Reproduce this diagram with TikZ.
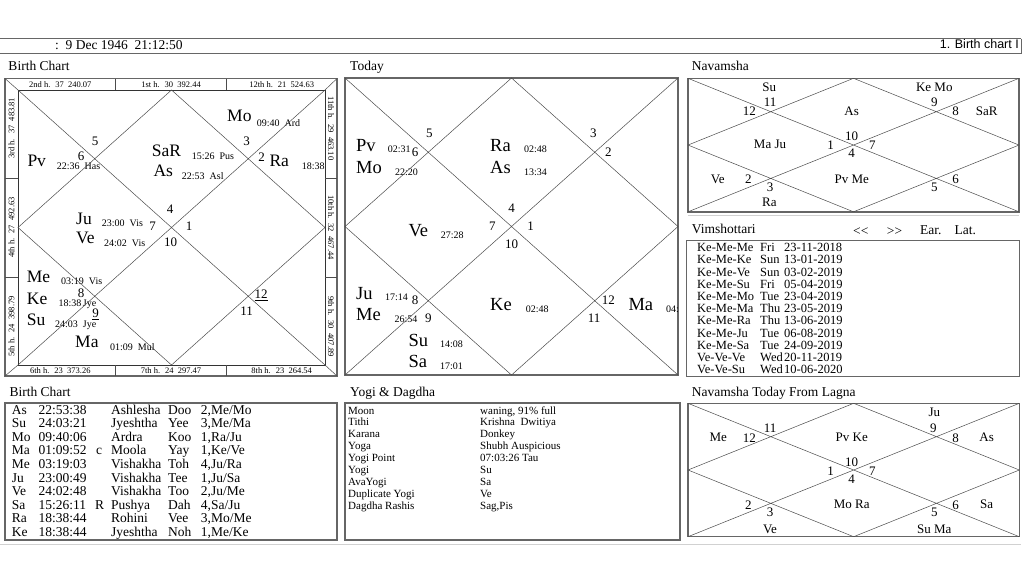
\documentclass[tikz,border=0pt]{standalone}
\usepackage{fontspec}
\setmainfont{Liberation Serif}
\setsansfont{Liberation Sans}
\usepackage{tikz}
\newcommand{\fs}[1]{\fontsize{#1}{#1}\selectfont}

\begin{document}
\begin{tikzpicture}[x=1pt, y=-1pt,
    txt/.style={inner sep=0pt, text height=0.66em, text depth=0pt, anchor=west},
    heading/.style={txt, font=\fs{13.5}},
    bigplanet/.style={txt, font=\fs{17.5}},
    todayplanet/.style={txt, font=\fs{18.5}},
    degree/.style={txt, font=\fs{10}},
    housenum/.style={txt, anchor=center, font=\fs{13}},
    stripnote/.style={inner sep=0pt, font=\fs{8.5}},
    cell/.style={txt, font=\fs{13.5}},
    vimrow/.style={txt, font=\fs{12.5}},
    yogirow/.style={txt, font=\fs{11}},
    navtxt/.style={txt, anchor=center, font=\fs{13}},
    panel/.style={draw=black!60, line width=1.4pt, outer sep=0pt, inner sep=0pt, anchor=north west},
    chartbox/.style={draw=black!80, line width=0.6pt, outer sep=0pt, inner sep=0pt, anchor=north west},
    chartline/.style={draw=black!70, line width=0.5pt},
    sepline/.style={draw=black!18, line width=0.8pt}
  ]
  \fill[white] (0,0) rectangle (1024,576);
  \useasboundingbox (0,0) rectangle (1024,576);

  % header bar
  \draw[black!60, line width=0.9pt] (0,38.5) -- (1021,38.5) (0,53.5) -- (1021,53.5) (1021,38.5) -- (1021,53.5);
  \node[heading] (stamp) at (55,45.7) {:\ \ 9 Dec 1946\ \ 21:12:50};
  \node[txt, anchor=east, font=\sffamily\fs{12.5}] (pagetab) at (1019,45.5) {1. Birth chart I};

  % birth chart
  \node[heading] (bctitle) at (8.3,66.7) {Birth Chart};
  \node[panel, minimum width=332, minimum height=297.5] (bcout) at (5,78.5) {};
  \node[chartbox, minimum width=307, minimum height=275] (bcin) at (18,90) {};
  \draw[chartline] (bcout.north west) -- (bcin.north west) (bcout.north east) -- (bcin.north east)
    (bcout.south west) -- (bcin.south west) (bcout.south east) -- (bcin.south east);
  \foreach \x in {115.7,226.3}
    \draw[chartline] (\x,78.5) -- (\x,90) (\x,365) -- (\x,376);
  \foreach \y in {178,277}
    \draw[chartline] (5,\y) -- (18,\y) (325,\y) -- (337,\y);

  \foreach \x/\t [count=\i] in {60.3/2nd h.~ 37~ 240.07, 171/1st h.~ 30~ 392.44, 281.7/12th h.~ 21~ 524.63}
    \node[stripnote] (bctop\i) at (\x,84.2) {\t};
  \foreach \x/\t [count=\i] in {60.3/6th h.~ 23~ 373.26, 171/7th h.~ 24~ 297.47, 281.7/8th h.~ 23~ 264.54}
    \node[stripnote] (bcbot\i) at (\x,370.6) {\t};
  \foreach \y/\t [count=\i] in {128.3/3rd h.~ 37~ 483.81, 227.5/4th h.~ 27~ 492.63, 326.5/5th h.~ 24~ 398.79}
    \node[stripnote, rotate=90] (bcleft\i) at (11.5,\y) {\t};
  \foreach \y/\t [count=\i] in {128.3/11th h.~ 29~ 463.10, 227.5/10th h.~ 32~ 467.44, 326.5/9th h.~ 30~ 407.89}
    \node[stripnote, rotate=-90] (bcright\i) at (331,\y) {\t};

  \foreach \x/\y/\t [count=\i] in {227/118/Mo, 151.7/153.3/SaR, 27.3/163.3/Pv, 269.3/163.3/Ra,
      153.3/173.3/As, 76/221/Ju, 76/240/Ve, 26.7/279/Me, 26.7/300.7/Ke, 26.7/321.7/Su, 75/344.3/Ma}
    \node[bigplanet] (bcpl\i) at (\x,\y) {\t};
  \foreach \x/\y/\t [count=\i] in {256.7/122.7/09:40~ Ard, 191.7/155.7/15:26~ Pus, 56.7/166/22:36~ Has,
      301.7/166/18:38, 181.7/176/22:53~ Asl, 101.7/223.3/23:00~ Vis, 104/242.7/24:02~ Vis,
      61/281.5/03:19~ Vis, 58.3/303.3/18:38\,Jye, 55/324/24:03~ Jye, 110/346.7/01:09~ Mul}
    \node[degree] (bcdg\i) at (\x,\y) {\t};
  \foreach \x/\y/\t [count=\i] in {95/141.7/5, 246.7/141.7/3, 81/157.3/6, 261.7/158.3/2, 170/210/4,
      152.7/226.7/7, 189/226.7/1, 170.7/243.3/10, 81/294/8, 95.5/314.5/\underline{9},
      261/295/\underline{12}, 246.7/311.7/11}
    \node[housenum] (bcnum\i) at (\x,\y) {\t};

  % today
  \node[heading] (tdtitle) at (350,67.3) {Today};
  \node[panel, minimum width=333, minimum height=297] (today) at (345,78) {};
  \foreach \x/\y/\t [count=\i] in {356/147.7/Pv, 490/147.7/Ra, 356/170/Mo, 490/170/As, 408.3/232.7/Ve,
      356/296/Ju, 490/306.7/Ke, 356/317.3/Me, 628.3/306.7/Ma, 408.3/342.7/Su, 408.3/364/Sa}
    \node[todayplanet] (tdpl\i) at (\x,\y) {\t};
  \foreach \x/\y/\t [count=\i] in {387.7/149/02:31, 524/149/02:48, 395/171.7/22:20, 524/171.7/13:34,
      440.7/235/27:28, 385/297.3/17:14, 525.7/309.3/02:48, 394.3/319.3/26:54, 666/309.3/04:,
      440/344.3/14:08, 440/366/17:01}
    \node[degree] (tddg\i) at (\x,\y) {\t};
  \foreach \x/\y/\t [count=\i] in {429.3/134.3/5, 593.3/134.3/3, 415/153.3/6, 608.3/153.3/2,
      511.7/209/4, 492.3/227.3/7, 530.7/227.3/1, 511.7/245/10, 415/300.7/8, 428.3/319.3/9,
      608.3/300.7/12, 594/319.3/11}
    \node[housenum] (tdnum\i) at (\x,\y) {\t};

  % navamsha
  \node[heading] (navtitle) at (691.7,67) {Navamsha};
  \node[panel, minimum width=331, minimum height=133.5] (nav) at (688,78.3) {};
  \foreach \x/\y/\t [count=\i] in {769.3/87.7/Su, 934.3/87.7/Ke Mo, 770/103.3/11, 749.3/112.3/12,
      851.7/112.3/As, 934.3/103.3/9, 955.7/112.3/8, 986.7/112.3/SaR, 770/145/Ma Ju, 830.7/145.7/1,
      851.7/136.7/10, 872.3/145.7/7, 851.7/154.3/4, 717.7/180/Ve, 748.3/180/2, 770/188.3/3,
      851.7/180/Pv Me, 934.3/188.3/5, 955.7/180/6, 769.3/203/Ra}
    \node[navtxt] (navt\i) at (\x,\y) {\t};

  % vimshottari
  \draw[sepline] (688,215) -- (1019,215);
  \node[heading] (vimtitle) at (691.7,230) {Vimshottari};
  \node[heading] (vimprev) at (853,231.7) {<\kern0pt<};
  \node[heading] (vimnext) at (886.7,231.7) {>\kern0pt>};
  \node[heading] (vimear) at (920,231.5) {Ear.};
  \node[heading] (vimlat) at (954.3,231.5) {Lat.};
  \node[chartbox, draw=black!60, line width=1pt, minimum width=332.3, minimum height=136.7] (vimbox) at (686.7,240) {};
  \foreach \p/\d/\t [count=\i] in {Ke-Me-Me/Fri/23-11-2018, Ke-Me-Ke/Sun/13-01-2019, Ke-Me-Ve/Sun/03-02-2019,
      Ke-Me-Su/Fri/05-04-2019, Ke-Me-Mo/Tue/23-04-2019, Ke-Me-Ma/Thu/23-05-2019, Ke-Me-Ra/Thu/13-06-2019,
      Ke-Me-Ju/Tue/06-08-2019, Ke-Me-Sa/Tue/24-09-2019, Ve-Ve-Ve/Wed/20-11-2019, Ve-Ve-Su/Wed/10-06-2020}
  {
    \node[vimrow] (vimp\i) at (697,{248.3+12.2*(\i-1)}) {\p};
    \node[vimrow] (vimd\i) at (760,{248.3+12.2*(\i-1)}) {\d};
    \node[vimrow] (vimt\i) at (784,{248.3+12.2*(\i-1)}) {\t};
  }

  % birth chart table
  \node[heading] (tabtitle) at (9.3,392.7) {Birth Chart};
  \node[panel, minimum width=332, minimum height=137] (bctab) at (5,403) {};
  \foreach \p/\t/\n/\s/\d [count=\i] in {As/22:53:38/Ashlesha/Doo/{2,Me/Mo}, Su/24:03:21/Jyeshtha/Yee/{3,Me/Ma},
      Mo/09:40:06/Ardra/Koo/{1,Ra/Ju}, Ma/01:09:52/Moola/Yay/{1,Ke/Ve}, Me/03:19:03/Vishakha/Toh/{4,Ju/Ra},
      Ju/23:00:49/Vishakha/Tee/{1,Ju/Sa}, Ve/24:02:48/Vishakha/Too/{2,Ju/Me}, Sa/15:26:11/Pushya/Dah/{4,Sa/Ju},
      Ra/18:38:44/Rohini/Vee/{3,Mo/Me}, Ke/18:38:44/Jyeshtha/Noh/{1,Me/Ke}}
  {
    \node[cell] (tabp\i) at (11.7,{410.8+13.6*(\i-1)}) {\p};
    \node[cell] (tabt\i) at (38.3,{410.8+13.6*(\i-1)}) {\t};
    \node[cell] (tabn\i) at (111,{410.8+13.6*(\i-1)}) {\n};
    \node[cell] (tabs\i) at (168,{410.8+13.6*(\i-1)}) {\s};
    \node[cell] (tabd\i) at (200.7,{410.8+13.6*(\i-1)}) {\d};
  }
  \node[cell] (tabflagma) at (96,451.6) {c};
  \node[cell] (tabflagsa) at (95,506.2) {R};

  % yogi and dagdha
  \node[heading] (yogititle) at (350,392.7) {Yogi \& Dagdha};
  \node[panel, minimum width=335, minimum height=137] (yogibox) at (345,403) {};
  \foreach \k/\v [count=\i] in {Moon/{waning, 91\% full}, Tithi/Krishna\ \ Dwitiya, Karana/Donkey,
      Yoga/Shubh Auspicious, Yogi Point/07:03:26 Tau, Yogi/Su, AvaYogi/Sa, Duplicate Yogi/Ve,
      Dagdha Rashis/{Sag,Pis}}
  {
    \node[yogirow] (yogik\i) at (348,{410.7+11.9*(\i-1)}) {\k};
    \node[yogirow] (yogiv\i) at (480,{410.7+11.9*(\i-1)}) {\v};
  }

  % navamsha today from lagna
  \node[heading] (nttitle) at (691.7,392.7) {Navamsha Today From Lagna};
  \node[panel, minimum width=331.3, minimum height=133.4] (navnow) at (688,403.3) {};
  \foreach \x/\y/\t [count=\i] in {934.3/412.7/Ju, 718.3/438.3/Me, 749.3/439.3/12, 770/429.3/11,
      851.7/438.3/Pv Ke, 933.3/429.3/9, 955.7/439.3/8, 986.7/438.3/As, 851.7/462.7/10, 830.7/471.7/1,
      872.3/471.7/7, 851.7/480/4, 748.3/506/2, 851.7/505/Mo Ra, 955.7/506/6, 986.7/505/Sa,
      770/513.3/3, 934.3/513.3/5, 770/530/Ve, 934.3/530/Su Ma}
    \node[navtxt] (ntt\i) at (\x,\y) {\t};

  % chart cross lines
  \foreach \c in {bcin, today, nav, navnow}
    \draw[chartline] (\c.north west) -- (\c.south east) (\c.north east) -- (\c.south west)
      (\c.north) -- (\c.east) -- (\c.south) -- (\c.west) -- cycle;

  \draw[sepline] (0,544) -- (1021,544);
\end{tikzpicture}
\end{document}
